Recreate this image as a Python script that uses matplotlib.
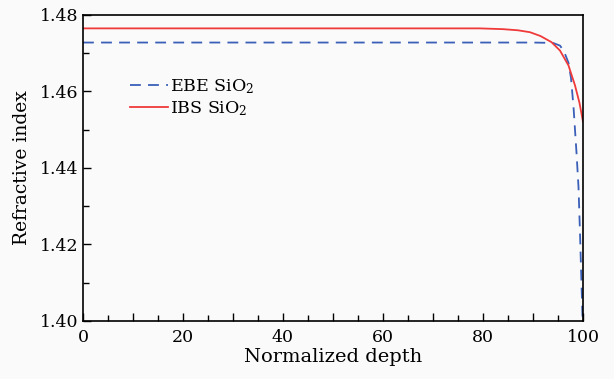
import matplotlib
matplotlib.use('Agg')
import matplotlib.pyplot as plt
from matplotlib.ticker import MultipleLocator, FuncFormatter

# data
ebe_depth = [0, 20, 40, 60, 80, 90, 94.0, 95.4, 96.2, 97.1, 97.6, 98.1, 98.7, 99.1, 99.4, 99.6, 99.9]
ebe_n = [1.4728, 1.4728, 1.4728, 1.4728, 1.4728, 1.4728, 1.4727, 1.4720, 1.4705, 1.4675, 1.4635,
         1.4560, 1.4440, 1.4350, 1.4230, 1.4140, 1.4010]

ibs_depth = [0, 20, 40, 60, 75, 79.4, 84, 87, 89.4, 91.5, 93.7, 95.4, 97.1, 98.4, 99.3, 100]
ibs_n = [1.4765, 1.4765, 1.4765, 1.4765, 1.4765, 1.4765, 1.4763, 1.4760, 1.4755, 1.4745, 1.4729,
         1.4707, 1.4668, 1.4616, 1.4570, 1.4521]

plt.rcParams['font.family'] = 'DejaVu Serif'
plt.rcParams['mathtext.fontset'] = 'dejavuserif'

fig = plt.figure(figsize=(6.14, 3.79), dpi=100, facecolor='#fafafa')
ax = fig.add_axes([83 / 614, 1 - 321 / 379, 500 / 614, 306 / 379])
ax.set_facecolor('#fafafa')

ax.plot(ebe_depth, ebe_n, color='#3a5fb8', lw=1.3, ls=(0, (6, 4)), label=r'EBE SiO$_2$')
ax.plot(ibs_depth, ibs_n, color='#f03a3a', lw=1.3, label=r'IBS SiO$_2$')

ax.set_xlim(0, 100)
ax.set_ylim(1.40, 1.48)
ax.xaxis.set_major_locator(MultipleLocator(10))
ax.xaxis.set_minor_locator(MultipleLocator(5))
ax.xaxis.set_major_formatter(FuncFormatter(lambda v, p: '%d' % v if round(v) % 20 == 0 else ''))
ax.yaxis.set_major_locator(MultipleLocator(0.02))
ax.yaxis.set_minor_locator(MultipleLocator(0.01))
ax.yaxis.set_major_formatter(FuncFormatter(lambda v, p: '%.2f' % v))
ax.tick_params(which='both', direction='in', labelsize=12.5, width=1)
ax.tick_params(which='major', length=6)
ax.tick_params(which='minor', length=4)
ax.tick_params(axis='x', pad=6)
for s in ax.spines.values():
    s.set_linewidth(1.2)

ax.set_xlabel('Normalized depth', fontsize=14, labelpad=1)
ax.set_ylabel('Refractive index', fontsize=13.5, labelpad=6)

ax.legend(loc='upper left', bbox_to_anchor=(0.08, 0.82), frameon=False, fontsize=12.5,
          handlelength=2.2, handletextpad=0.1, labelspacing=0.2, borderaxespad=0)

fig.savefig('out.png', dpi=100, facecolor=fig.get_facecolor())
